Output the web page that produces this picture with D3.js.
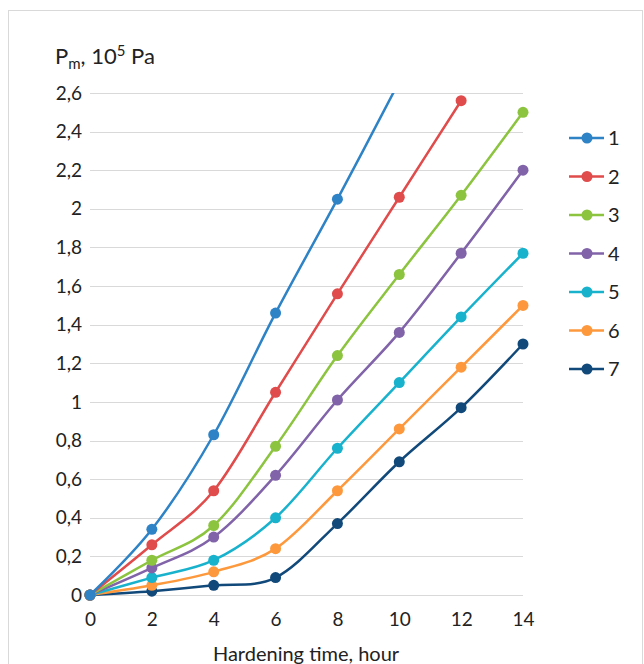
<!DOCTYPE html>
<html>
<head>
<meta charset="utf-8">
<script src="https://cdn.jsdelivr.net/npm/d3@7"></script>
<style>
  body { margin: 0; background: #fff; }
  svg { display: block; font-family: Lato, "Open Sans", sans-serif; }
</style>
</head>
<body>
<div id="chart"></div>
<script>
// hours on x axis
var hours = [0, 2, 4, 6, 8, 10, 12, 14];
var seriesNames = ["1", "2", "3", "4", "5", "6", "7"];
// values (10^5 Pa), series 1 runs off the top after 8 h
var s1 = [0, 0.34, 0.83, 1.46, 2.05, 2.66];
var s2 = [0, 0.26, 0.54, 1.05, 1.56, 2.06, 2.56];
var s3 = [0, 0.18, 0.36, 0.77, 1.24, 1.66, 2.07, 2.50];
var s4 = [0, 0.14, 0.30, 0.62, 1.01, 1.36, 1.77, 2.20];
var s5 = [0, 0.09, 0.18, 0.40, 0.76, 1.10, 1.44, 1.77];
var s6 = [0, 0.05, 0.12, 0.24, 0.54, 0.86, 1.18, 1.50];
var s7 = [0, 0.02, 0.05, 0.09, 0.37, 0.69, 0.97, 1.30];
var yTicks = [0, 0.2, 0.4, 0.6, 0.8, 1, 1.2, 1.4, 1.6, 1.8, 2, 2.2, 2.4, 2.6];

var allSeries = [s1, s2, s3, s4, s5, s6, s7];
var colors = ["#2e83c6", "#e04b4b", "#8cc43f", "#8063a8", "#19b2cd", "#fd993c", "#11497a"];

var width = 644, height = 664;
var svg = d3.select("#chart").append("svg")
  .attr("width", width)
  .attr("height", height);

// outer frame
svg.append("rect")
  .attr("x", 8.5).attr("y", 10.5)
  .attr("width", 634).attr("height", 660)
  .attr("fill", "none")
  .attr("stroke", "#d9d9d9");

var x = d3.scaleLinear().domain([0, 14]).range([90, 523]);
var y = d3.scaleLinear().domain([0, 2.6]).range([595, 93]);

// gridlines
svg.append("g").selectAll("line")
  .data(yTicks)
  .enter().append("line")
  .attr("x1", x(0)).attr("x2", x(14))
  .attr("y1", function (d) { return Math.round(y(d)) + 0.5; })
  .attr("y2", function (d) { return Math.round(y(d)) + 0.5; })
  .attr("stroke", "#d9d9d9")
  .attr("stroke-width", 1.2);

// y tick labels
var fmt = function (d) { return d3.format(".1~f")(d).replace(".", ","); };
var yAxis = d3.axisLeft(y).tickValues(yTicks).tickFormat(fmt).tickSize(0).tickPadding(8);
var gy = svg.append("g").attr("transform", "translate(" + x(0) + ",0)").call(yAxis);
gy.select(".domain").remove();
gy.selectAll("text").attr("font-size", 19).attr("fill", "#222").attr("font-family", "Lato, sans-serif");

// x tick labels
var xAxis = d3.axisBottom(x).tickValues(hours).tickSize(0).tickPadding(18);
var gx = svg.append("g").attr("transform", "translate(0," + y(0) + ")").call(xAxis);
gx.select(".domain").remove();
gx.selectAll("text").attr("font-size", 19).attr("fill", "#222").attr("font-family", "Lato, sans-serif");

// axis titles
svg.append("text")
  .attr("x", 306).attr("y", 661)
  .attr("text-anchor", "middle")
  .attr("font-size", 20).attr("fill", "#222")
  .text("Hardening time, hour");

var title = svg.append("text")
  .attr("x", 55).attr("y", 64)
  .attr("font-size", 22).attr("fill", "#222");
title.append("tspan").text("P");
title.append("tspan").attr("font-size", 15).attr("dy", 5).text("m");
title.append("tspan").attr("dy", -5).text(", 10");
title.append("tspan").attr("font-size", 15).attr("dy", -8).text("5");
title.append("tspan").attr("dy", 8).text(" Pa");

// clip to plot area
svg.append("clipPath").attr("id", "plot")
  .append("rect")
  .attr("x", x(0) - 10).attr("y", y(2.6))
  .attr("width", x(14) - x(0) + 20).attr("height", y(0) - y(2.6) + 10);

var line = d3.line()
  .x(function (d) { return x(d[0]); })
  .y(function (d) { return y(d[1]); })
  .curve(d3.curveCardinal.tension(0));

var plot = svg.append("g").attr("clip-path", "url(#plot)");

// draw from last series to first so 1 sits on top like the original
for (var k = allSeries.length - 1; k >= 0; k--) {
  var pts = allSeries[k].map(function (v, i) { return [hours[i], v]; });
  plot.append("path")
    .datum(pts)
    .attr("d", line)
    .attr("fill", "none")
    .attr("stroke", colors[k])
    .attr("stroke-width", 2.5);
  plot.selectAll(null)
    .data(pts.filter(function (p) { return p[1] <= 2.6; }))
    .enter().append("circle")
    .attr("cx", function (d) { return x(d[0]); })
    .attr("cy", function (d) { return y(d[1]); })
    .attr("r", 5.5)
    .attr("fill", colors[k]);
}

// legend
var legend = svg.append("g").selectAll("g")
  .data(seriesNames)
  .enter().append("g")
  .attr("transform", function (d, i) { return "translate(0," + (138 + i * 38.5) + ")"; });
legend.append("line")
  .attr("x1", 569).attr("x2", 604)
  .attr("stroke", function (d, i) { return colors[i]; })
  .attr("stroke-width", 2.5);
legend.append("circle")
  .attr("cx", 587).attr("r", 5.5)
  .attr("fill", function (d, i) { return colors[i]; });
legend.append("text")
  .attr("x", 608).attr("dy", "0.35em")
  .attr("font-size", 20).attr("fill", "#222")
  .text(function (d) { return d; });
</script>
</body>
</html>
